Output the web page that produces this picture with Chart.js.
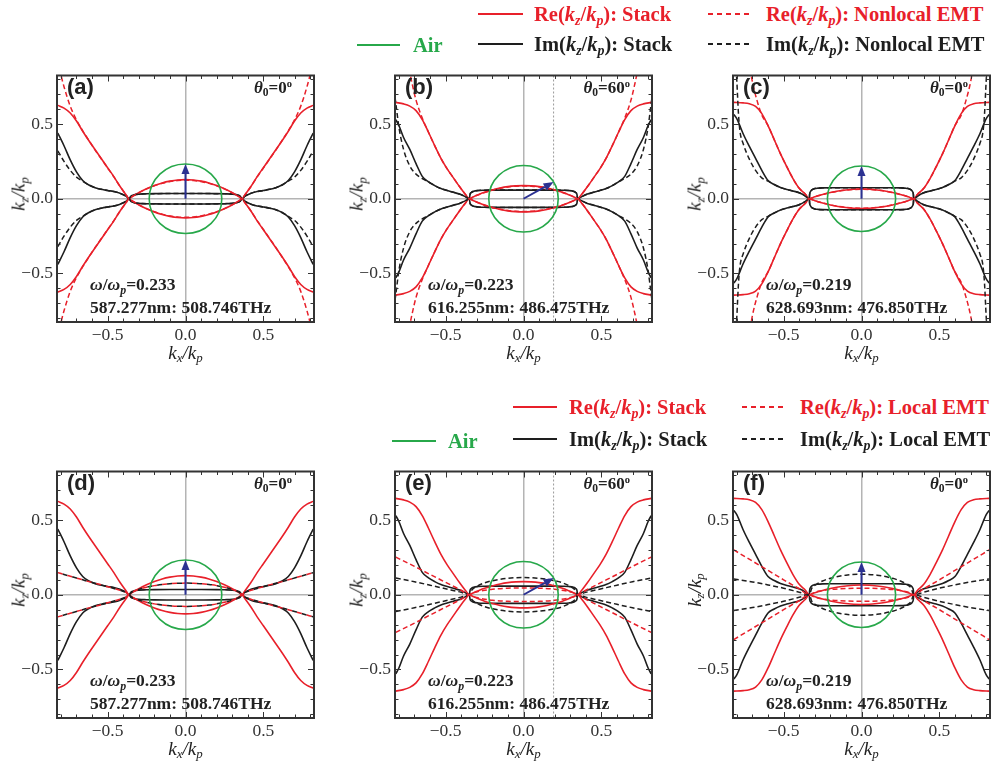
<!DOCTYPE html>
<html>
<head>
<meta charset="utf-8">
<script src="https://cdn.jsdelivr.net/npm/chart.js@4.4.1/dist/chart.umd.min.js"></script>
<style>
body { margin: 0; background: #fff; }
#fig { position: relative; width: 994px; height: 765px; overflow: hidden; font-family: "Liberation Serif", serif; color: #222; }
#fig canvas { position: absolute; }
.lab { position: absolute; white-space: nowrap; font-weight: bold; line-height: 1; }
.lab sub, .ttl sub { font-size: 0.68em; vertical-align: -0.28em; line-height: 0; }
.lab sup { font-size: 0.62em; vertical-align: 0.55em; line-height: 0; }
.ttl { position: absolute; white-space: nowrap; font-size: 19px; line-height: 1; font-style: italic; }
.tag { font-family: "Liberation Sans", Arial, sans-serif; font-size: 22px; }
</style>
</head>
<body>
<div id="fig"></div>
<script>
// half curves, kx >= 0, as [kx/kp, kz/kp]; the picture is symmetric in kx and in +-kz
const reStackA = [[0,0.128],[0.05,0.126],[0.1,0.118],[0.15,0.106],[0.2,0.089],[0.25,0.067],[0.3,0.041],[0.33,0.022],[0.35,0.009],[0.363,0],[0.38,0.024],[0.42,0.082],[0.46,0.148],[0.5,0.208],[0.54,0.268],[0.58,0.328],[0.62,0.388],[0.66,0.452],[0.7,0.52],[0.74,0.574],[0.78,0.607],[0.82,0.625]];
const imStackA = [[0,0.035],[0.1,0.035],[0.2,0.034],[0.25,0.033],[0.3,0.031],[0.33,0.026],[0.35,0.017],[0.363,0],[0.38,0.016],[0.42,0.036],[0.46,0.048],[0.5,0.055],[0.54,0.063],[0.58,0.074],[0.62,0.092],[0.66,0.122],[0.7,0.18],[0.74,0.26],[0.78,0.355],[0.82,0.44]];
const reNonlocalA = [[0,0.124],[0.05,0.122],[0.1,0.115],[0.15,0.103],[0.2,0.087],[0.25,0.066],[0.3,0.04],[0.33,0.022],[0.35,0.009],[0.363,0],[0.38,0.024],[0.42,0.082],[0.46,0.146],[0.5,0.206],[0.54,0.266],[0.58,0.326],[0.62,0.39],[0.66,0.455],[0.7,0.528],[0.74,0.62],[0.78,0.75],[0.81,0.87]];
const imNonlocalA = [[0,0.035],[0.1,0.035],[0.2,0.034],[0.25,0.033],[0.3,0.031],[0.33,0.026],[0.35,0.017],[0.363,0],[0.38,0.016],[0.42,0.036],[0.46,0.048],[0.5,0.055],[0.54,0.063],[0.58,0.074],[0.62,0.092],[0.66,0.118],[0.7,0.145],[0.74,0.19],[0.78,0.25],[0.82,0.32]];

const reStackB = [[0,0.088],[0.05,0.086],[0.1,0.081],[0.15,0.072],[0.2,0.059],[0.25,0.043],[0.29,0.027],[0.32,0.014],[0.348,0],[0.37,0.025],[0.41,0.08],[0.45,0.14],[0.49,0.2],[0.53,0.27],[0.57,0.355],[0.61,0.445],[0.65,0.53],[0.69,0.59],[0.73,0.62],[0.77,0.635],[0.82,0.645]];
const imStackB = [[0,0.058],[0.1,0.058],[0.2,0.058],[0.25,0.057],[0.29,0.055],[0.32,0.05],[0.335,0.042],[0.343,0.03],[0.348,0],[0.37,0.012],[0.41,0.031],[0.45,0.043],[0.49,0.055],[0.53,0.068],[0.57,0.088],[0.61,0.113],[0.65,0.15],[0.69,0.235],[0.73,0.33],[0.77,0.41],[0.8,0.49],[0.82,0.53]];
const reNonlocalB = [[0,0.086],[0.05,0.084],[0.1,0.079],[0.15,0.07],[0.2,0.058],[0.25,0.042],[0.29,0.027],[0.32,0.014],[0.348,0],[0.37,0.025],[0.41,0.08],[0.45,0.14],[0.49,0.2],[0.53,0.27],[0.57,0.355],[0.61,0.445],[0.65,0.54],[0.69,0.66],[0.715,0.77],[0.735,0.87]];
const imNonlocalB = [[0,0.058],[0.1,0.058],[0.2,0.058],[0.25,0.057],[0.29,0.055],[0.32,0.05],[0.335,0.042],[0.343,0.03],[0.348,0],[0.37,0.012],[0.41,0.031],[0.45,0.043],[0.49,0.055],[0.53,0.068],[0.57,0.088],[0.61,0.113],[0.65,0.135],[0.69,0.165],[0.73,0.22],[0.77,0.33],[0.8,0.48],[0.815,0.6],[0.825,0.68]];

const reStackC = [[0,0.065],[0.05,0.064],[0.1,0.059],[0.15,0.052],[0.2,0.042],[0.25,0.029],[0.28,0.02],[0.31,0.009],[0.335,0],[0.36,0.03],[0.4,0.07],[0.44,0.135],[0.48,0.215],[0.52,0.3],[0.56,0.395],[0.6,0.49],[0.64,0.57],[0.68,0.618],[0.72,0.636],[0.76,0.642],[0.82,0.645]];
const imStackC = [[0,0.074],[0.1,0.074],[0.2,0.074],[0.25,0.073],[0.28,0.071],[0.3,0.068],[0.318,0.06],[0.328,0.047],[0.333,0.03],[0.335,0],[0.36,0.018],[0.4,0.04],[0.44,0.052],[0.48,0.062],[0.52,0.075],[0.56,0.095],[0.6,0.122],[0.64,0.19],[0.68,0.27],[0.72,0.35],[0.76,0.435],[0.8,0.535],[0.82,0.565]];
const reNonlocalC = [[0,0.063],[0.05,0.062],[0.1,0.058],[0.15,0.051],[0.2,0.041],[0.25,0.028],[0.28,0.02],[0.31,0.009],[0.335,0],[0.36,0.03],[0.4,0.07],[0.44,0.135],[0.48,0.215],[0.52,0.3],[0.56,0.395],[0.6,0.49],[0.64,0.56],[0.67,0.655],[0.7,0.78],[0.715,0.87]];
const imNonlocalC = [[0,0.074],[0.1,0.074],[0.2,0.074],[0.25,0.073],[0.28,0.071],[0.3,0.068],[0.318,0.06],[0.328,0.047],[0.333,0.03],[0.335,0],[0.36,0.018],[0.4,0.04],[0.44,0.052],[0.48,0.062],[0.52,0.075],[0.56,0.095],[0.6,0.118],[0.64,0.14],[0.68,0.19],[0.72,0.265],[0.76,0.37],[0.78,0.45],[0.79,0.57],[0.8,0.78],[0.805,0.87]];

// local EMT (bottom row); in (d) Re and Im coincide
const reLocalD = [[0,0.078],[0.05,0.077],[0.1,0.074],[0.15,0.069],[0.2,0.061],[0.25,0.05],[0.3,0.036],[0.33,0.024],[0.35,0.013],[0.363,0],[0.38,0.014],[0.42,0.03],[0.46,0.042],[0.5,0.054],[0.54,0.066],[0.58,0.077],[0.62,0.088],[0.66,0.1],[0.7,0.112],[0.74,0.124],[0.78,0.136],[0.82,0.148]];
const imLocalD = [[0,0.078],[0.05,0.077],[0.1,0.074],[0.15,0.069],[0.2,0.061],[0.25,0.05],[0.3,0.036],[0.33,0.024],[0.35,0.013],[0.363,0],[0.38,0.014],[0.42,0.03],[0.46,0.042],[0.5,0.054],[0.54,0.066],[0.58,0.077],[0.62,0.088],[0.66,0.1],[0.7,0.112],[0.74,0.124],[0.78,0.136],[0.82,0.148]];
const reLocalE = [[0,0.046],[0.1,0.044],[0.2,0.037],[0.26,0.028],[0.3,0.019],[0.33,0.01],[0.348,0],[0.4,0.03],[0.5,0.083],[0.6,0.136],[0.7,0.19],[0.82,0.252]];
const imLocalE = [[0,0.115],[0.1,0.11],[0.2,0.094],[0.25,0.08],[0.3,0.056],[0.33,0.034],[0.348,0],[0.4,0.016],[0.5,0.04],[0.6,0.064],[0.7,0.087],[0.82,0.112]];
const reLocalF = [[0,0.044],[0.1,0.042],[0.2,0.035],[0.26,0.026],[0.3,0.017],[0.335,0],[0.4,0.04],[0.5,0.1],[0.6,0.163],[0.7,0.225],[0.82,0.3]];
const imLocalF = [[0,0.137],[0.1,0.131],[0.2,0.11],[0.25,0.092],[0.29,0.07],[0.32,0.042],[0.335,0],[0.4,0.017],[0.5,0.044],[0.6,0.066],[0.7,0.086],[0.82,0.106]];

const omegas = [0.233, 0.223, 0.219];
const thetas = [0, 60, 0];
const freqLabels = ['587.277nm: 508.746THz', '616.255nm: 486.475THz', '628.693nm: 476.850THz'];
const majorTicks = [-0.5, 0, 0.5];
const minorTicks = [-0.8, -0.7, -0.6, -0.5, -0.4, -0.3, -0.2, -0.1, 0, 0.1, 0.2, 0.3, 0.4, 0.5, 0.6, 0.7, 0.8];

const RED = '#e8202a', BLACK = '#1e1e1e', GREEN = '#27a84a', BLUE = '#2b3192';
const LIM = 0.825, FRAME = 257, YAX = 42, XAX = 24, PAD = 4;

const panels = [
  { tag: '(a)', left: 57, top: 65, col: 0, re: reStackA, im: imStackA, reEmt: reNonlocalA, imEmt: imNonlocalA },
  { tag: '(b)', left: 395, top: 65, col: 1, re: reStackB, im: imStackB, reEmt: reNonlocalB, imEmt: imNonlocalB },
  { tag: '(c)', left: 733, top: 65, col: 2, re: reStackC, im: imStackC, reEmt: reNonlocalC, imEmt: imNonlocalC },
  { tag: '(d)', left: 57, top: 461, col: 0, re: reStackA, im: imStackA, reEmt: reLocalD, imEmt: imLocalD, same: true },
  { tag: '(e)', left: 395, top: 461, col: 1, re: reStackB, im: imStackB, reEmt: reLocalE, imEmt: imLocalE },
  { tag: '(f)', left: 733, top: 461, col: 2, re: reStackC, im: imStackC, reEmt: reLocalF, imEmt: imLocalF }
];

const fig = document.getElementById('fig');

function branch(half, sign) {
  const pts = [];
  for (let i = half.length - 1; i > 0; i--) pts.push({ x: -half[i][0], y: sign * half[i][1] });
  half.forEach(p => pts.push({ x: p[0], y: sign * p[1] }));
  return pts;
}

function curve(half, sign, color, dash, order, offset) {
  return {
    data: branch(half, sign),
    showLine: true,
    borderColor: color,
    borderWidth: dash ? 1.5 : 1.6,
    borderDash: dash || [],
    borderDashOffset: offset || 0,
    pointRadius: 0,
    cubicInterpolationMode: 'monotone',
    order: order
  };
}

function addDiv(cls, html, css) {
  const d = document.createElement('div');
  d.className = cls;
  d.innerHTML = html;
  Object.assign(d.style, css);
  fig.appendChild(d);
  return d;
}

function decor(p) {
  const omega = omegas[p.col];
  const th = thetas[p.col] * Math.PI / 180;
  return {
    id: 'decor' + p.tag,
    beforeDatasetsDraw(chart) {
      const { ctx, chartArea: a, scales: { x } } = chart;
      if (th > 0) {
        const px = x.getPixelForValue(omega * Math.sin(th));
        ctx.save();
        ctx.strokeStyle = '#9a9a9a';
        ctx.lineWidth = 1;
        ctx.setLineDash([2, 2]);
        ctx.beginPath();
        ctx.moveTo(px, a.top);
        ctx.lineTo(px, a.bottom);
        ctx.stroke();
        ctx.restore();
      }
    },
    afterDatasetsDraw(chart) {
      const { ctx, chartArea: a, scales: { x, y } } = chart;
      const cx = x.getPixelForValue(0), cy = y.getPixelForValue(0);
      ctx.save();
      // air circle
      ctx.strokeStyle = GREEN;
      ctx.lineWidth = 1.6;
      ctx.beginPath();
      ctx.ellipse(cx, cy, x.getPixelForValue(omega) - cx, cy - y.getPixelForValue(omega), 0, 0, 2 * Math.PI);
      ctx.stroke();
      // incident wave vector
      const tx = x.getPixelForValue(omega * Math.sin(th)), ty = y.getPixelForValue(omega * Math.cos(th));
      const ang = Math.atan2(ty - cy, tx - cx), hl = 10, hw = 4;
      const bx = tx - hl * Math.cos(ang), by = ty - hl * Math.sin(ang);
      ctx.strokeStyle = BLUE;
      ctx.fillStyle = BLUE;
      ctx.lineWidth = 2;
      ctx.beginPath();
      ctx.moveTo(cx, cy);
      ctx.lineTo(bx, by);
      ctx.stroke();
      ctx.beginPath();
      ctx.moveTo(tx, ty);
      ctx.lineTo(bx + hw * Math.sin(ang), by - hw * Math.cos(ang));
      ctx.lineTo(bx - hw * Math.sin(ang), by + hw * Math.cos(ang));
      ctx.closePath();
      ctx.fill();
      // frame with inward ticks
      ctx.strokeStyle = '#333';
      ctx.lineWidth = 2;
      ctx.strokeRect(a.left, a.top, a.right - a.left, a.bottom - a.top);
      ctx.lineWidth = 1;
      ctx.beginPath();
      minorTicks.forEach(v => {
        const len = majorTicks.includes(v) ? 6 : 3.5;
        const px = Math.round(x.getPixelForValue(v)) + 0.5, py = Math.round(y.getPixelForValue(v)) + 0.5;
        ctx.moveTo(px, a.bottom); ctx.lineTo(px, a.bottom - len);
        ctx.moveTo(px, a.top); ctx.lineTo(px, a.top + len);
        ctx.moveTo(a.left, py); ctx.lineTo(a.left + len, py);
        ctx.moveTo(a.right, py); ctx.lineTo(a.right - len, py);
      });
      ctx.stroke();
      ctx.restore();
    }
  };
}

function tickLabel(v) {
  if (v === 0) return '0.0';
  return (v < 0 ? '\u2212' : '') + Math.abs(v).toFixed(1);
}

function axis(isX) {
  return {
    type: 'linear',
    min: -LIM,
    max: LIM,
    afterBuildTicks: s => { s.ticks = majorTicks.map(v => ({ value: v })); },
    afterFit: s => { if (isX) s.height = XAX; else s.width = YAX; },
    ticks: {
      callback: tickLabel,
      color: '#333',
      padding: isX ? 3 : 4,
      maxRotation: 0,
      font: { family: 'Liberation Serif', size: 17.5 }
    },
    grid: {
      drawTicks: false,
      lineWidth: 1.5,
      color: c => (c.tick && c.tick.value === 0) ? '#b4b4b4' : 'rgba(0,0,0,0)'
    },
    border: { display: false }
  };
}

const kz = '<i>k<sub>z</sub></i>/<i>k<sub>p</sub></i>';
const kx = '<i>k<sub>x</sub></i>/<i>k<sub>p</sub></i>';

panels.forEach(p => {
  const cv = document.createElement('canvas');
  cv.width = YAX + FRAME + PAD;
  cv.height = PAD + FRAME + XAX;
  cv.style.left = (p.left - YAX) + 'px';
  cv.style.top = (p.top - PAD) + 'px';
  fig.appendChild(cv);

  const dashRe = p.same ? [5, 5] : [5, 3];
  const dashIm = p.same ? [5, 5] : [5, 3];
  const datasets = [
    curve(p.reEmt, 1, RED, dashRe, 1), curve(p.reEmt, -1, RED, dashRe, 1),
    curve(p.imEmt, 1, BLACK, dashIm, 2, p.same ? 5 : 0), curve(p.imEmt, -1, BLACK, dashIm, 2, p.same ? 5 : 0),
    curve(p.re, 1, RED, null, 3), curve(p.re, -1, RED, null, 3),
    curve(p.im, 1, BLACK, null, 4), curve(p.im, -1, BLACK, null, 4)
  ];

  new Chart(cv, {
    type: 'scatter',
    data: { datasets: datasets },
    options: {
      responsive: false,
      animation: false,
      devicePixelRatio: 1,
      layout: { padding: { top: PAD, right: PAD, left: 0, bottom: 0 } },
      plugins: { legend: { display: false }, tooltip: { enabled: false } },
      scales: { x: axis(true), y: axis(false) }
    },
    plugins: [decor(p)]
  });

  const right = p.left + FRAME, bottom = p.top + FRAME;
  addDiv('ttl', kx, { left: (p.left + FRAME / 2) + 'px', top: (bottom + 30) + 'px', transform: 'translate(-50%,-50%)' });
  addDiv('ttl', kz, { left: (p.left - 39) + 'px', top: (p.top + FRAME / 2) + 'px', transform: 'translate(-50%,-50%) rotate(-90deg)' });
  addDiv('lab tag', p.tag, { left: (p.left + 10) + 'px', top: (p.top + 22) + 'px', transform: 'translateY(-50%)' });
  addDiv('lab', '<i>\u03b8</i><sub>0</sub>=' + thetas[p.col] + '<sup>o</sup>', { left: (right - 22) + 'px', top: (p.top + 22) + 'px', fontSize: '17px', transform: 'translate(-100%,-50%)' });
  addDiv('lab', '<i>\u03c9</i>/<i>\u03c9<sub>p</sub></i>=' + omegas[p.col].toFixed(3), { left: (p.left + 33) + 'px', top: (bottom - 37) + 'px', fontSize: '17.5px', transform: 'translateY(-50%)' });
  addDiv('lab', freqLabels[p.col], { left: (p.left + 33) + 'px', top: (bottom - 14) + 'px', fontSize: '17.5px', transform: 'translateY(-50%)' });
});

// legends
function sample(x1, x2, y, color, dashed) {
  const d = document.createElement('div');
  d.style.cssText = 'position:absolute;left:' + x1 + 'px;top:' + (y - 1) + 'px;width:' + (x2 - x1) + 'px;height:2px;' +
    (dashed ? 'background:repeating-linear-gradient(90deg,' + color + ' 0 5px,transparent 5px 9px)' : 'background:' + color);
  fig.appendChild(d);
}
function legendText(html, x, y, color) {
  addDiv('lab', html, { left: x + 'px', top: y + 'px', fontSize: '20.5px', color: color, transform: 'translateY(-50%)' });
}
const reK = 'Re(' + kz + ')';
const imK = 'Im(' + kz + ')';

// top
sample(357, 400, 45, GREEN, false); legendText('Air', 413, 45, GREEN);
sample(478, 523, 14, RED, false); legendText(reK + ': Stack', 534, 14, RED);
sample(478, 523, 44, BLACK, false); legendText(imK + ': Stack', 534, 44, BLACK);
sample(708, 752, 14, RED, true); legendText(reK + ': Nonlocal EMT', 766, 14, RED);
sample(708, 752, 44, BLACK, true); legendText(imK + ': Nonlocal EMT', 766, 44, BLACK);
// bottom
sample(392, 436, 441, GREEN, false); legendText('Air', 448, 441, GREEN);
sample(513, 557, 407, RED, false); legendText(reK + ': Stack', 569, 407, RED);
sample(513, 557, 439, BLACK, false); legendText(imK + ': Stack', 569, 439, BLACK);
sample(742, 785, 407, RED, true); legendText(reK + ': Local EMT', 800, 407, RED);
sample(742, 785, 439, BLACK, true); legendText(imK + ': Local EMT', 800, 439, BLACK);
</script>
</body>
</html>
